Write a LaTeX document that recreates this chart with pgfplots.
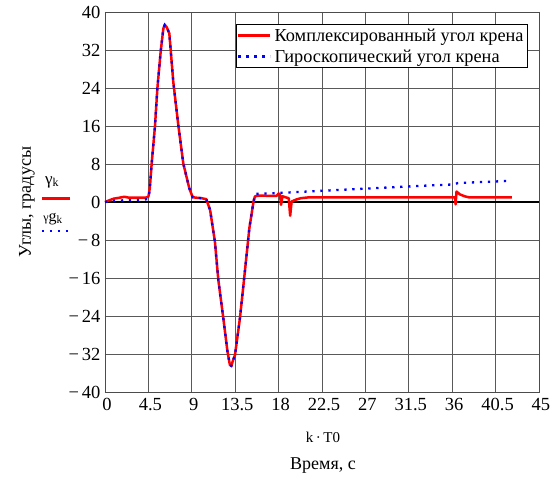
\documentclass[border=0pt]{standalone}
\usepackage{fontspec}
\setmainfont{Liberation Serif}
\usepackage{pgfplots}
\pgfplotsset{compat=1.18}
\begin{document}
\begin{tikzpicture}
\useasboundingbox (-105pt,-89pt) rectangle (450pt,392pt);
\begin{axis}[
  at={(0,0)}, anchor=south west,
  scale only axis, width=434pt, height=380pt,
  xmin=0, xmax=45, ymin=-40, ymax=40,
  xtick={0,4.5,9,13.5,18,22.5,27,31.5,36,40.5,45},
  xticklabels={0,4.5,9,13.5,18,22.5,27,31.5,36,40.5,45},
  ytick={-40,-32,-24,-16,-8,0,8,16,24,32,40},
  yticklabels={−\hspace{3pt}40,−\hspace{3pt}32,−\hspace{3pt}24,−\hspace{3pt}16,−\hspace{3pt}8,0,8,16,24,32,40},
  tick align=inside, major tick length=0.1pt,
  xmajorgrids=true, ymajorgrids=true,
  major grid style={draw=black!65, line width=0.8pt},
  axis line style={draw=black!70, line width=0.8pt},
  ticklabel style={font=\fontsize{18.5}{21}\selectfont},
  xticklabel style={yshift=-3pt, xshift=2pt},
  yticklabel style={xshift=-1pt},
  legend style={at={(0.9747,0.968)}, anchor=north east, draw=black, line width=0.8pt,
    fill=white, font=\fontsize{18.3}{21}\selectfont, inner xsep=1pt, inner ysep=3pt, row sep=5pt,
    nodes={inner xsep=3pt, inner ysep=1pt}},
  legend image code/.code={\draw[#1] (-2pt,0pt) -- (30pt,0pt);},
  legend cell align=left,
  clip=false,
]
\draw[black, line width=1.3pt] (axis cs:0,0) -- (axis cs:45,0);
\addplot[red, line width=2.5pt, line join=round] coordinates {
(0,0) (0.5,0.4) (0.9,0.7) (1.5,0.9) (2.0,1.1) (2.5,0.9) (3.0,0.9) (3.5,0.9) (4.2,0.9)
(4.5,1.1) (4.65,3) (4.84,8.1) (5.18,15.9) (5.43,23.9) (5.77,31.6) (6.05,36.5) (6.2,37.3)
(6.4,36.8) (6.67,35.5) (7.08,25.3) (7.6,16.2) (8.12,8.1) (8.74,2.9) (9.09,1.0) (9.5,0.9)
(10.0,0.8) (10.5,0.6) (10.9,-1.7) (11.4,-8.4) (11.75,-16.4) (12.27,-24.5) (12.7,-31.5)
(12.95,-34.3) (13.1,-34.5) (13.25,-33.5) (13.48,-32.2) (13.99,-24.5) (14.5,-14.7)
(14.97,-5.5) (15.4,0.1) (15.55,1.2) (16,1.35) (17,1.3) (17.8,1.3) (18.0,1.8) (18.15,1.5)
(18.25,-0.6) (18.4,1.2) (18.7,1.0) (19.05,0.8) (19.2,-2.9) (19.35,0.1) (19.8,0.5)
(20.3,0.8) (21,0.95) (36.3,0.95) (36.35,-0.5) (36.45,2.2) (36.8,1.6) (37.3,1.2)
(37.8,0.95) (42.2,0.95)
};
\addlegendentry{Комплексированный угол крена}
\addplot[blue, line width=2.3pt, dash pattern=on 2.3pt off 5.7pt] coordinates {
(0,0) (0.9,0.2) (1.9,0.35) (2.9,0.4) (3.8,0.45) (4.4,0.6) (4.55,1.1)
(4.65,3) (4.84,8.1) (5.18,15.9) (5.43,23.9) (5.77,31.6) (6.05,36.5) (6.2,37.3)
(6.4,36.8) (6.67,35.5) (7.08,25.3) (7.6,16.2) (8.12,8.1) (8.74,2.9) (9.09,1.0) (9.5,0.9)
(10.0,0.8) (10.5,0.6) (10.9,-1.7) (11.4,-8.4) (11.75,-16.4) (12.27,-24.5) (12.7,-31.5)
(12.95,-34.3) (13.1,-34.5) (13.25,-33.5) (13.48,-32.2) (13.99,-24.5) (14.5,-14.7)
(14.97,-5.5) (15.4,0.1) (15.6,1.7) (18,1.9) (26.9,2.8) (32.7,3.4) (36.2,3.7) (36.6,4.0)
(42,4.45)
};
\addlegendentry{Гироскопический угол крена}
\end{axis}
\node[rotate=90, font=\fontsize{18}{21}\selectfont] at (-78pt,190pt) {Углы, градусы};
\node[font=\fontsize{17}{20}\selectfont] at (-53pt,210pt) {γ\textsubscript{k}};
\draw[red, line width=2.5pt] (-63pt,193.7pt) -- (-35pt,193.7pt);
\node[font=\fontsize{16}{19}\selectfont] at (-52pt,173pt) {{\fontsize{12}{13}\selectfont γ}g\textsubscript{k}};
\draw[blue, line width=2.3pt, dash pattern=on 2.3pt off 5.7pt] (-63pt,161.3pt) -- (-37pt,161.3pt);
\node[font=\fontsize{15}{18}\selectfont] at (218pt,-45pt) {k\,·\,T0};
\node[font=\fontsize{18}{21}\selectfont] at (218pt,-74pt) {Время, с};
\end{tikzpicture}
\end{document}
